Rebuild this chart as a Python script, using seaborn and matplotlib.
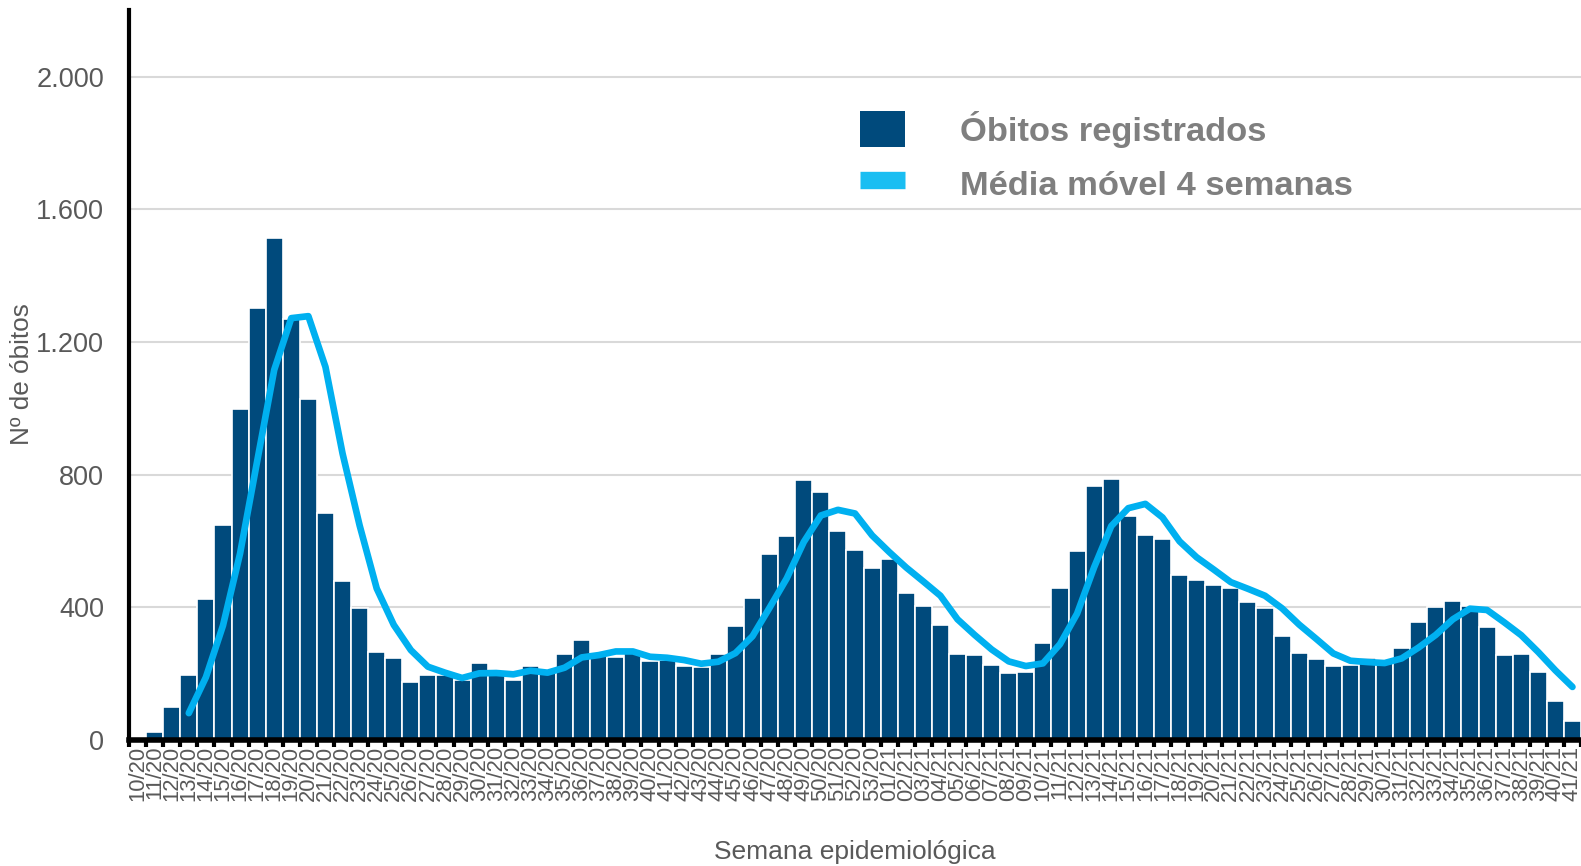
import numpy as np
import pandas as pd
import matplotlib
matplotlib.use("Agg")
import matplotlib.pyplot as plt
import seaborn as sns
from matplotlib.patches import Patch
from matplotlib.lines import Line2D
from matplotlib.ticker import FuncFormatter, FixedLocator

# semanas epidemiológicas 10/20 .. 41/21
semanas = [f"{w:02d}/20" for w in range(10, 54)] + [f"{w:02d}/21" for w in range(1, 42)]

obitos_2020 = [0, 25, 100, 197, 425, 647, 998, 1303, 1515, 1268,
               1027, 684, 480, 398, 265, 246, 175, 197, 196, 180,
               232, 200, 181, 224, 208, 260, 302, 255, 250, 262,
               237, 242, 222, 219, 260, 345, 427, 562, 615, 783,
               747, 629, 572, 519]
obitos_2021 = [547, 442, 404, 348, 260, 257, 227, 202, 205, 291,
               457, 569, 767, 786, 675, 618, 606, 498, 483, 467,
               457, 416, 398, 315, 263, 243, 224, 225, 248, 232,
               278, 357, 402, 418, 405, 342, 255, 260, 204, 119,
               57]

# média móvel (começa em 13/20)
media_2020 = [np.nan, np.nan, np.nan, 81, 189, 345, 562, 840, 1116, 1272,
              1278, 1125, 864, 647, 457, 347, 271, 221, 203, 187,
              201, 202, 198, 209, 203, 218, 249, 256, 267, 267,
              251, 248, 241, 230, 236, 262, 313, 399, 487, 597,
              677, 694, 683, 617]
media_2021 = [567, 520, 478, 435, 364, 317, 273, 237, 223, 231,
              289, 381, 521, 645, 699, 712, 671, 599, 551, 514,
              476, 456, 435, 397, 348, 305, 261, 239, 235, 232,
              246, 279, 317, 364, 396, 392, 355, 316, 265, 210,
              160]

df = pd.DataFrame({
    "semana": semanas,
    "obitos": obitos_2020 + obitos_2021,
    "media": media_2020 + media_2021,
})

cor_barra = "#004A7C"
cor_linha = "#00B0F0"
cinza = "#595959"

sns.set_theme(style="white")
plt.rcParams["font.family"] = ["Liberation Sans", "DejaVu Sans"]

fig = plt.figure(figsize=(15.81, 8.66), dpi=100)
ax = fig.add_axes([0.0816, 0.1455, 0.9184, 0.8425])

sns.barplot(data=df, x="semana", y="obitos", color=cor_barra, width=1.0,
            edgecolor="white", linewidth=1.2, saturation=1, ax=ax, zorder=2)
pos = np.arange(len(df))
sns.lineplot(x=pos, y=df["media"], color=cor_linha, linewidth=4.8, ax=ax,
             zorder=3, solid_capstyle="round")

ax.set_xlim(-0.5, len(df) - 0.5)
ax.set_ylim(0, 2200)

# grade
ax.set_yticks(range(0, 2001, 400))
ax.yaxis.set_major_formatter(FuncFormatter(lambda v, p: f"{int(v):,}".replace(",", ".")))
ax.grid(axis="y", color="#D9D9D9", linewidth=1.5, zorder=0)
ax.set_axisbelow(True)

# spines
for s in ["top", "right"]:
    ax.spines[s].set_visible(False)
ax.spines["left"].set_color("black")
ax.spines["left"].set_linewidth(3)
ax.spines["bottom"].set_color("black")
ax.spines["bottom"].set_linewidth(4)

ax.tick_params(axis="y", length=0, pad=18, labelsize=19.5, labelcolor=cinza)
ax.tick_params(axis="x", which="major", length=0, pad=4, labelsize=15.8,
               labelcolor=cinza, rotation=90)
ax.xaxis.set_minor_locator(FixedLocator(np.arange(-0.5, len(df), 1.0)))
ax.tick_params(axis="x", which="minor", length=5, width=3, color="black",
               direction="out", bottom=True)

ax.set_xlabel("Semana epidemiológica", fontsize=19, color=cinza)
ax.xaxis.set_label_coords(0.5, -0.137)
ax.xaxis.label.set_va("top")
ax.set_ylabel("Nº de óbitos", fontsize=18.8, color=cinza, va="center")
ax.yaxis.set_label_coords(-0.0737, 0.502)

handles = [Patch(facecolor=cor_barra, edgecolor="none"),
           Line2D([], [], color="#1ABEF2", linewidth=12.5, solid_capstyle="butt")]
leg = ax.legend(handles, ["Óbitos registrados", "Média móvel 4 semanas"],
                loc="upper left", bbox_to_anchor=(0.544, 0.872),
                bbox_transform=fig.transFigure, frameon=False,
                prop={"weight": "bold", "size": 24.8},
                handlelength=1.3, handleheight=1.25, handletextpad=1.6,
                labelspacing=0.5, borderpad=0, borderaxespad=0)
for t in leg.get_texts():
    t.set_color("#7F7F7F")

fig.savefig("out.png", dpi=100)
